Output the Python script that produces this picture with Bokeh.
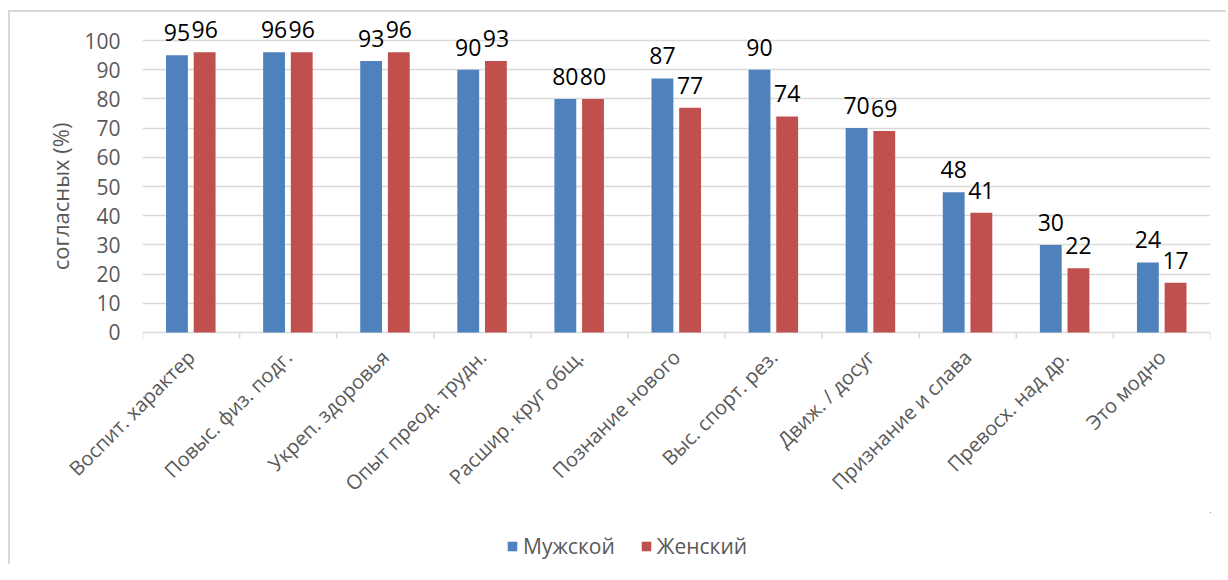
from math import pi
from bokeh.plotting import figure
from bokeh.layouts import column
from bokeh.models import (Range1d, LinearAxis, FixedTicker, ColumnDataSource, Legend, LegendItem, Title)
from bokeh.transform import dodge
from bokeh.core.properties import value
from bokeh.embed import file_html
from bokeh.resources import INLINE

categories = ["Воспит. характер", "Повыс. физ. подг.", "Укреп. здоровья", "Опыт преод. трудн.",
              "Расшир. круг общ.", "Познание нового", "Выс. спорт. рез.", "Движ. / досуг",
              "Признание и слава", "Превосх. над др.", "Это модно"]
male = [95, 96, 93, 90, 80, 87, 90, 70, 48, 30, 24]
female = [96, 96, 96, 93, 80, 77, 74, 69, 41, 22, 17]
series_names = ["Мужской", "Женский"]
y_ticks = [0, 10, 20, 30, 40, 50, 60, 70, 80, 90, 100]
y_title = "согласных (%)"

FONT = "Open Sans"
BLUE = "#4F81BD"
RED = "#C0504D"
GRID = "#D9D9D9"
TXT = "#595959"

n = len(categories)
pos = [i + 0.5 for i in range(n)]        # category slot centres
bounds = list(range(n + 1))              # category slot boundaries
src = ColumnDataSource(dict(x=pos, male=male, female=female,
                            ml=[str(v) for v in male], fl=[str(v) for v in female]))

p = figure(x_range=Range1d(0, n), y_range=Range1d(-2.4, 109.6), x_axis_type=None,
           width=1216, height=500, output_backend="svg", toolbar_location=None,
           min_border_left=132, min_border_right=16, min_border_top=0, min_border_bottom=173)
p.outline_line_color = None
p.background_fill_color = "white"
p.border_fill_color = "white"

r1 = p.vbar(x=dodge("x", -0.145), top="male", width=0.225, source=src,
            fill_color=BLUE, line_color=None)
r2 = p.vbar(x=dodge("x", 0.14), top="female", width=0.225, source=src,
            fill_color=RED, line_color=None)

for col, lab, off in (("male", "ml", -0.145), ("female", "fl", 0.14)):
    p.text(x=dodge("x", off), y=col, text=lab, source=src,
           text_align="center", text_baseline="bottom", y_offset=-14,
           text_font=value(FONT), text_font_size="23px", text_color="black")

# category-boundary tick marks below the zero line
p.segment(x0=bounds, y0=[0] * len(bounds), x1=bounds, y1=[-2.1] * len(bounds),
          line_color=GRID, line_width=1.5)

# y axis
yax = p.yaxis[0]
yax.ticker = FixedTicker(ticks=y_ticks)
yax.axis_line_color = None
yax.major_tick_line_color = None
yax.minor_tick_line_color = None
yax.major_tick_out = 0
yax.major_label_standoff = 22
yax.major_label_text_font = FONT
yax.major_label_text_font_size = "21px"
yax.major_label_text_color = TXT

p.ygrid.ticker = FixedTicker(ticks=y_ticks)
p.ygrid.grid_line_color = GRID
p.ygrid.grid_line_width = 1.5

p.add_layout(Title(text=y_title, align="right", offset=110, text_font=FONT,
                   text_font_size="22px", text_font_style="normal", text_color=TXT,
                   standoff=14), "left")

# category labels at slot centres, rotated 45 degrees
cat_axis = LinearAxis(ticker=FixedTicker(ticks=pos),
                      major_label_overrides={x: c for x, c in zip(pos, categories)},
                      axis_line_color=None, major_tick_line_color=None, minor_tick_line_color=None,
                      major_tick_out=0, major_tick_in=0,
                      major_label_orientation=pi / 4, major_label_text_font=FONT,
                      major_label_text_font_size="20px", major_label_text_color=TXT,
                      major_label_standoff=14)
p.add_layout(cat_axis, "below")

# legend strip under the chart (its series renderers sit outside its visible range)
pl = figure(x_range=Range1d(-20, -19), y_range=Range1d(-20, -19), x_axis_type=None, y_axis_type=None,
            width=1216, height=52, output_backend="svg", toolbar_location=None,
            min_border=0)
pl.outline_line_color = None
pl.grid.visible = False
e1 = pl.vbar(x="x", top="male", width=0.225, source=src, fill_color=BLUE, line_color=None)
e2 = pl.vbar(x="x", top="female", width=0.225, source=src, fill_color=RED, line_color=None)
legend = Legend(items=[LegendItem(label=series_names[0], renderers=[e1]),
                       LegendItem(label=series_names[1], renderers=[e2])],
                orientation="horizontal", location=(364, 4),
                glyph_width=12, glyph_height=12, label_standoff=5, spacing=25,
                label_text_font=FONT, label_text_font_size="21px", label_text_color=TXT,
                label_height=24, padding=0, margin=0, border_line_color=None,
                background_fill_alpha=0)
pl.add_layout(legend, "center")

layout = column(p, pl, spacing=0,
                styles={"border-left": "2px solid #D9D9D9", "border-top": "2px solid #D9D9D9",
                        "margin-left": "8px", "margin-top": "10px"})

open("out.html", "w").write(file_html(layout, INLINE))
